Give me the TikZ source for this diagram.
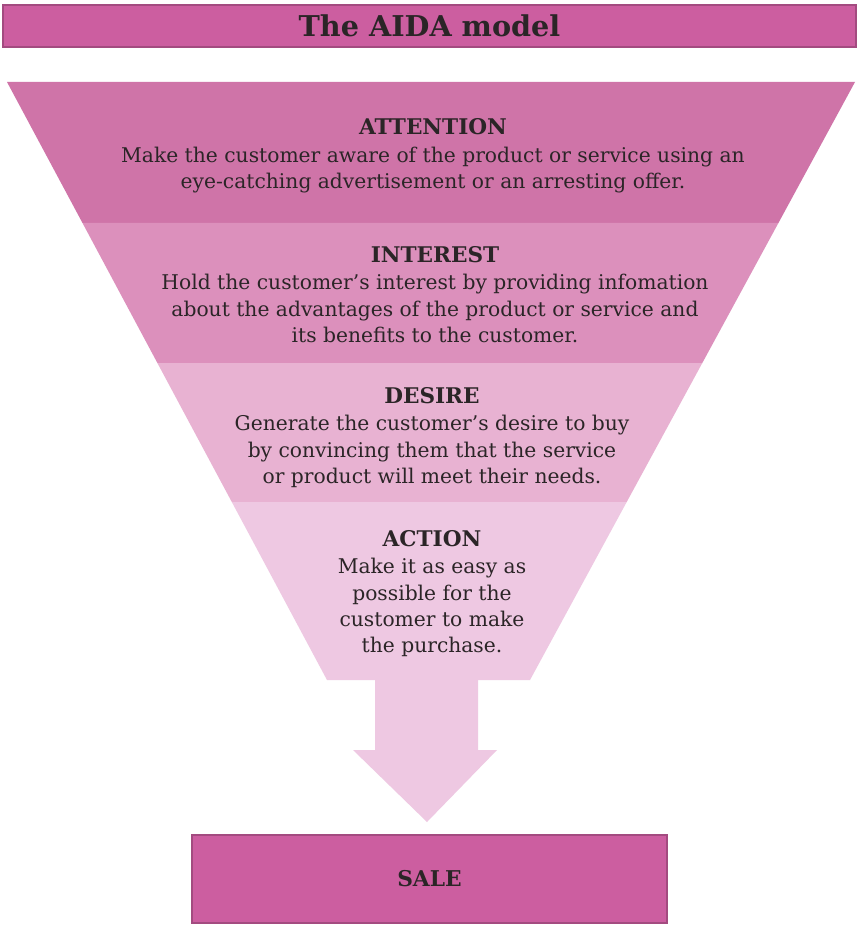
\documentclass[tikz,border=0pt]{standalone}
\usepackage{fontspec}
\setmainfont{DejaVu Serif}
\usetikzlibrary{positioning,calc}
\definecolor{barfill}{HTML}{CC5EA0}
\definecolor{attfill}{HTML}{CF74A8}
\definecolor{intfill}{HTML}{DC90BC}
\definecolor{desfill}{HTML}{E8B2D2}
\definecolor{actfill}{HTML}{EEC8E2}
\definecolor{inktext}{HTML}{2B2527}

\begin{document}
\begin{tikzpicture}[x=0.75pt, y=-0.75pt,
  bar/.style={fill=barfill, draw=barfill!80!black, line width=0.8pt, text=inktext, font=\fontsize{16.3}{18}\selectfont\bfseries},
  head/.style={inner sep=0pt, text=inktext, font=\fontsize{16.2}{18}\selectfont\bfseries},
  body/.style={inner sep=0pt, align=center, text=inktext, font=\fontsize{15.2}{19.7}\selectfont}
]
  \useasboundingbox (0,0) rectangle (859,930);
  \fill[white] (0,0) rectangle (859,930);

  \node[bar, minimum width=639.75pt, minimum height=31.5pt, font=\fontsize{21.5}{24}\selectfont\bfseries] (title) at (429.5,26) {The AIDA model};

  \fill[attfill] (7,82) -- (855,82) -- (778.4,223) -- (82.5,223) -- cycle;
  \fill[intfill] (82.5,223) -- (778.4,223) -- (702.3,363) -- (157.4,363) -- cycle;
  \fill[desfill] (157.4,363) -- (702.3,363) -- (626.7,502) -- (231.8,502) -- cycle;
  \fill[actfill] (231.8,502) -- (626.7,502) -- (530,680) -- (327,680) -- cycle;
  \fill[actfill] (375,679) -- (478,679) -- (478,750) -- (497,750) -- (427,822) -- (353,750) -- (375,750) -- cycle;

  \node[head] (att) at (433,127) {ATTENTION};
  \node[body, below=8.5pt of att] (attbody) {Make the customer aware of the product or service using an\\eye-catching advertisement or an arresting offer.};
  \node[head] (int) at (435,255) {INTEREST};
  \node[body, below=8pt of int] (intbody) {Hold the customer’s interest by providing infomation\\about the advantages of the product or service and\\its benefits to the customer.};
  \node[head] (des) at (432,396) {DESIRE};
  \node[body, below=8pt of des] (desbody) {Generate the customer’s desire to buy\\by convincing them that the service\\or product will meet their needs.};
  \node[head] (act) at (432,539) {ACTION};
  \node[body, below=8pt of act] (actbody) {Make it as easy as\\possible for the\\customer to make\\the purchase.};

  \node[bar, minimum width=356.25pt, minimum height=66pt] (sale) at (429.5,879) {SALE};
\end{tikzpicture}
\end{document}
